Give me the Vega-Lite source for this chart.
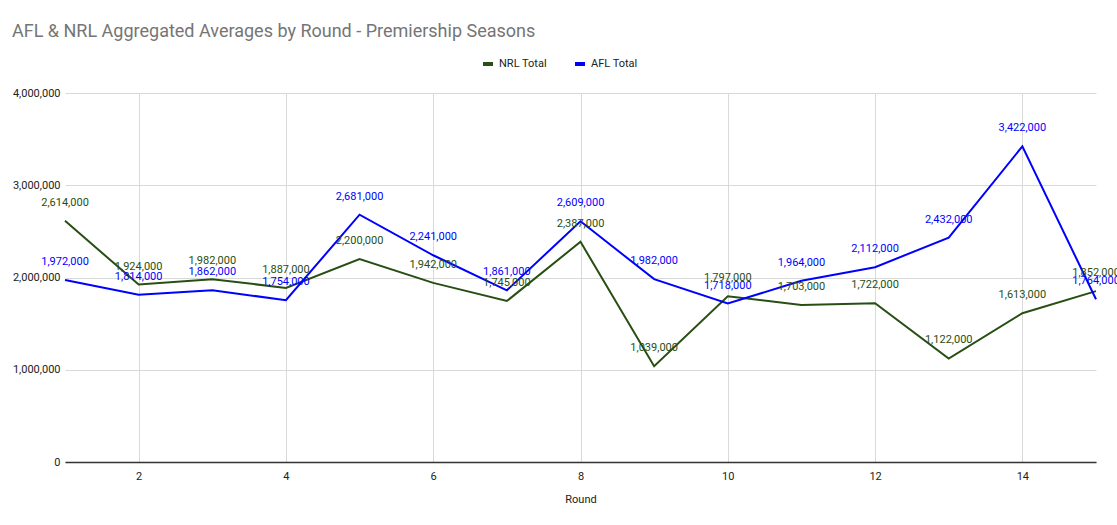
{
  "$schema": "https://vega.github.io/schema/vega-lite/v6.json",
  "width": 1031,
  "height": 369,
  "autosize": {"type": "none"},
  "padding": {"left": 65, "top": 93, "right": 21, "bottom": 63},
  "background": "#ffffff",
  "title": {
    "text": "AFL & NRL Aggregated Averages by Round - Premiership Seasons",
    "anchor": "start",
    "frame": "group",
    "dx": -53,
    "offset": 16,
    "font": "Roboto",
    "fontSize": 18,
    "fontWeight": "normal",
    "color": "#757575"
  },
  "data": {
    "values": [
      {"round": 1, "series": "NRL Total", "value": 2614000},
      {"round": 2, "series": "NRL Total", "value": 1924000},
      {"round": 3, "series": "NRL Total", "value": 1982000},
      {"round": 4, "series": "NRL Total", "value": 1887000},
      {"round": 5, "series": "NRL Total", "value": 2200000},
      {"round": 6, "series": "NRL Total", "value": 1942000},
      {"round": 7, "series": "NRL Total", "value": 1745000},
      {"round": 8, "series": "NRL Total", "value": 2387000},
      {"round": 9, "series": "NRL Total", "value": 1039000},
      {"round": 10, "series": "NRL Total", "value": 1797000},
      {"round": 11, "series": "NRL Total", "value": 1703000},
      {"round": 12, "series": "NRL Total", "value": 1722000},
      {"round": 13, "series": "NRL Total", "value": 1122000},
      {"round": 14, "series": "NRL Total", "value": 1613000},
      {"round": 15, "series": "NRL Total", "value": 1852000},
      {"round": 1, "series": "AFL Total", "value": 1972000},
      {"round": 2, "series": "AFL Total", "value": 1814000},
      {"round": 3, "series": "AFL Total", "value": 1862000},
      {"round": 4, "series": "AFL Total", "value": 1754000},
      {"round": 5, "series": "AFL Total", "value": 2681000},
      {"round": 6, "series": "AFL Total", "value": 2241000},
      {"round": 7, "series": "AFL Total", "value": 1861000},
      {"round": 8, "series": "AFL Total", "value": 2609000},
      {"round": 9, "series": "AFL Total", "value": 1982000},
      {"round": 10, "series": "AFL Total", "value": 1718000},
      {"round": 11, "series": "AFL Total", "value": 1964000},
      {"round": 12, "series": "AFL Total", "value": 2112000},
      {"round": 13, "series": "AFL Total", "value": 2432000},
      {"round": 14, "series": "AFL Total", "value": 3422000},
      {"round": 15, "series": "AFL Total", "value": 1764000}
    ]
  },
  "encoding": {
    "x": {
      "field": "round",
      "type": "quantitative",
      "title": "Round",
      "scale": {"domain": [1, 15], "nice": false, "zero": false},
      "axis": {
        "values": [2, 4, 6, 8, 10, 12, 14],
        "format": "d",
        "tickSize": 0,
        "labelPadding": 8,
        "titlePadding": 12,
        "domainColor": "#333333",
        "domainWidth": 1.5,
        "gridColor": "#d9d9d9"
      }
    },
    "y": {
      "field": "value",
      "type": "quantitative",
      "title": null,
      "scale": {"domain": [0, 4000000], "nice": false},
      "axis": {
        "values": [0, 1000000, 2000000, 3000000, 4000000],
        "format": ",d",
        "tickSize": 0,
        "labelPadding": 5,
        "domain": false,
        "gridColor": "#d9d9d9"
      }
    },
    "color": {
      "field": "series",
      "type": "nominal",
      "scale": {"domain": ["NRL Total", "AFL Total"], "range": ["#274e13", "#0000ff"]}
    }
  },
  "layer": [
    {
      "mark": {"type": "line", "strokeWidth": 2},
      "encoding": {
        "color": {
          "field": "series",
          "type": "nominal",
          "scale": {"domain": ["NRL Total", "AFL Total"], "range": ["#274e13", "#0000ff"]},
          "legend": {
            "title": null,
            "orient": "none",
            "direction": "horizontal",
            "legendX": 416,
            "legendY": -36,
            "symbolType": "stroke",
            "symbolStrokeWidth": 4,
            "symbolSize": 100,
            "labelOffset": 4,
            "columnPadding": 20,
            "labelFont": "Roboto",
            "labelFontSize": 11,
            "labelColor": "#222222"
          }
        }
      }
    },
    {
      "mark": {"type": "text", "baseline": "bottom", "dy": -13, "font": "Roboto", "fontSize": 11},
      "encoding": {
        "text": {"field": "value", "type": "quantitative", "format": ",d"},
        "color": {
          "field": "series",
          "type": "nominal",
          "scale": {"domain": ["NRL Total", "AFL Total"], "range": ["#274e13", "#0000ff"]},
          "legend": null
        }
      }
    }
  ],
  "config": {
    "view": {"stroke": null},
    "axis": {
      "labelFont": "Roboto",
      "labelFontSize": 11,
      "labelColor": "#222222",
      "titleFont": "Roboto",
      "titleFontSize": 11,
      "titleFontWeight": "normal",
      "titleColor": "#222222"
    }
  }
}
